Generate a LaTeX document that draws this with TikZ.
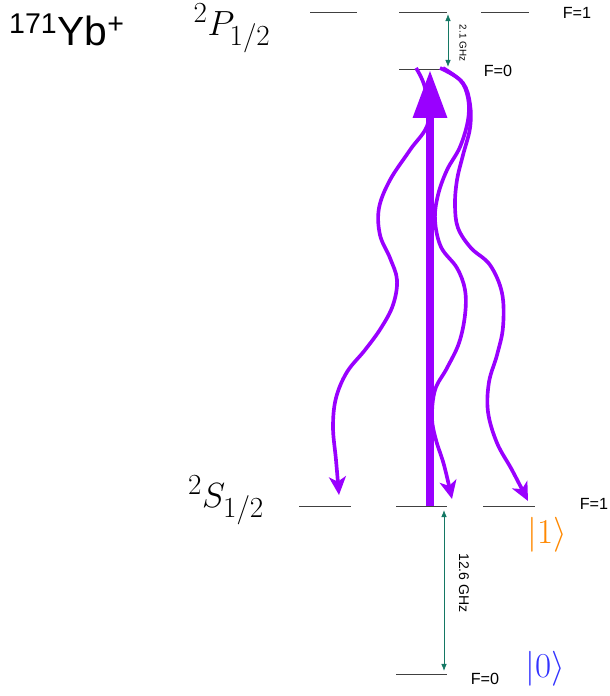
\documentclass[tikz,border=0pt]{standalone}
\usepackage{fontspec}
\newfontfamily\sansf{Liberation Sans}
\usetikzlibrary{arrows.meta}
\definecolor{vio}{RGB}{153,0,255}
\definecolor{teal2}{RGB}{20,120,100}
\definecolor{orng}{RGB}{255,136,0}
\definecolor{blu}{RGB}{50,50,255}
\begin{document}
\begin{tikzpicture}[x=0.025cm,y=-0.025cm,
  lvl/.style={draw=black!75, line width=0.7pt},
  flab/.style={font=\sansf\fontsize{11.5}{12}\selectfont, inner sep=0pt},
  freq/.style={draw=teal2, line width=0.6pt, {Latex[length=5pt,width=4pt]}-{Latex[length=5pt,width=4pt]}},
  wave/.style={draw=vio, line width=2.6pt, -{Stealth[length=13pt,width=12pt,inset=3.5pt]}},
  pump/.style={draw=vio, line width=5.8pt, -{Triangle[length=34pt,width=23pt]}}]
\useasboundingbox (0,0) rectangle (610,696);
% coordinates of levels
\coordinate (p1a) at (310,12); \coordinate (p1b) at (357,12);
\coordinate (p2a) at (399,12); \coordinate (p2b) at (447,12);
\coordinate (p3a) at (481,12); \coordinate (p3b) at (529,12);
\coordinate (p0a) at (399,69); \coordinate (p0b) at (447,69);
\coordinate (s1a) at (299,506); \coordinate (s1b) at (351,506);
\coordinate (s2a) at (396,506); \coordinate (s2b) at (447,506);
\coordinate (s3a) at (483,506); \coordinate (s3b) at (535,506);
\coordinate (s0a) at (396,674); \coordinate (s0b) at (447,674);
\draw[lvl] (p1a) -- (p1b);
\draw[lvl] (p2a) -- (p2b);
\draw[lvl] (p3a) -- (p3b);
\draw[lvl] (p0a) -- (p0b);
\draw[lvl] (s1a) -- (s1b);
\draw[lvl] (s2a) -- (s2b);
\draw[lvl] (s3a) -- (s3b);
\draw[lvl] (s0a) -- (s0b);
% labels
\node (yb) at (67,30) {\sansf\fontsize{29}{30}\selectfont\textsuperscript{171}Yb\textsuperscript{+}};
\node[inner sep=0pt] (pl) at (232,28) {\fontsize{28}{30}\selectfont$^2P_{1/2}$};
\node (sl) at (226,500) {\fontsize{30}{32}\selectfont$^2S_{1/2}$};
\node[flab] (fp1) at (577,13) {F=1};
\node[flab] (fp0) at (498,71) {F=0};
\node[flab] (fs1) at (594,504) {F=1};
\node[flab] (fs0) at (485,679) {F=0};
\node[text=orng] (k1) at (547,535) {\fontsize{25}{27}\selectfont$|1\rangle$};
\node[text=blu] (k0) at (545,669) {\fontsize{25}{27}\selectfont$|0\rangle$};
% frequency arrows
\coordinate (fa1) at (448,14); \coordinate (fa2) at (448,67);
\draw[freq] (fa1) -- (fa2);
\node[rotate=-90, font=\sansf\fontsize{7}{8}\selectfont, inner sep=0pt] (g21) at (463,43) {2.1 GHz};
\coordinate (fb1) at (444,510); \coordinate (fb2) at (444,671);
\draw[freq] (fb1) -- (fb2);
\node[rotate=-90, font=\sansf\fontsize{10}{11}\selectfont, inner sep=0pt] (g126) at (464,583) {12.6 GHz};
% decay curves
\coordinate (w1s) at (416,68); \coordinate (w1e) at (339,495);
\coordinate (w2s) at (440,68); \coordinate (w2e) at (452,499);
\coordinate (w3s) at (443,68); \coordinate (w3e) at (528,501);
\draw[wave] plot[smooth, tension=0.6] coordinates {(w1s) (425,88) (428,123) (410,150) (390,180) (379,208) (380,235) (390,258) (397,280) (393,305) (381,328) (365,350) (347,372) (336,398) (333,427) (336,460) (w1e)};
\draw[wave] plot[smooth, tension=0.6] coordinates {(w2s) (460,80) (468,98) (468,120) (460,147) (447,170) (438,195) (435,220) (441,247) (457,268) (465,290) (465,315) (459,343) (447,368) (435,390) (432,418) (436,440) (444,465) (w2e)};
\draw[wave] plot[smooth, tension=0.6] coordinates {(w3s) (463,83) (470,104) (470,128) (463,155) (457,180) (455,205) (458,228) (471,248) (490,265) (502,293) (503,327) (497,355) (489,382) (488,412) (497,443) (512,470) (w3e)};
% pump arrow
\coordinate (ps) at (430,506); \coordinate (pe) at (430,70);
\draw[pump] (ps) -- (pe);
\end{tikzpicture}
\end{document}
